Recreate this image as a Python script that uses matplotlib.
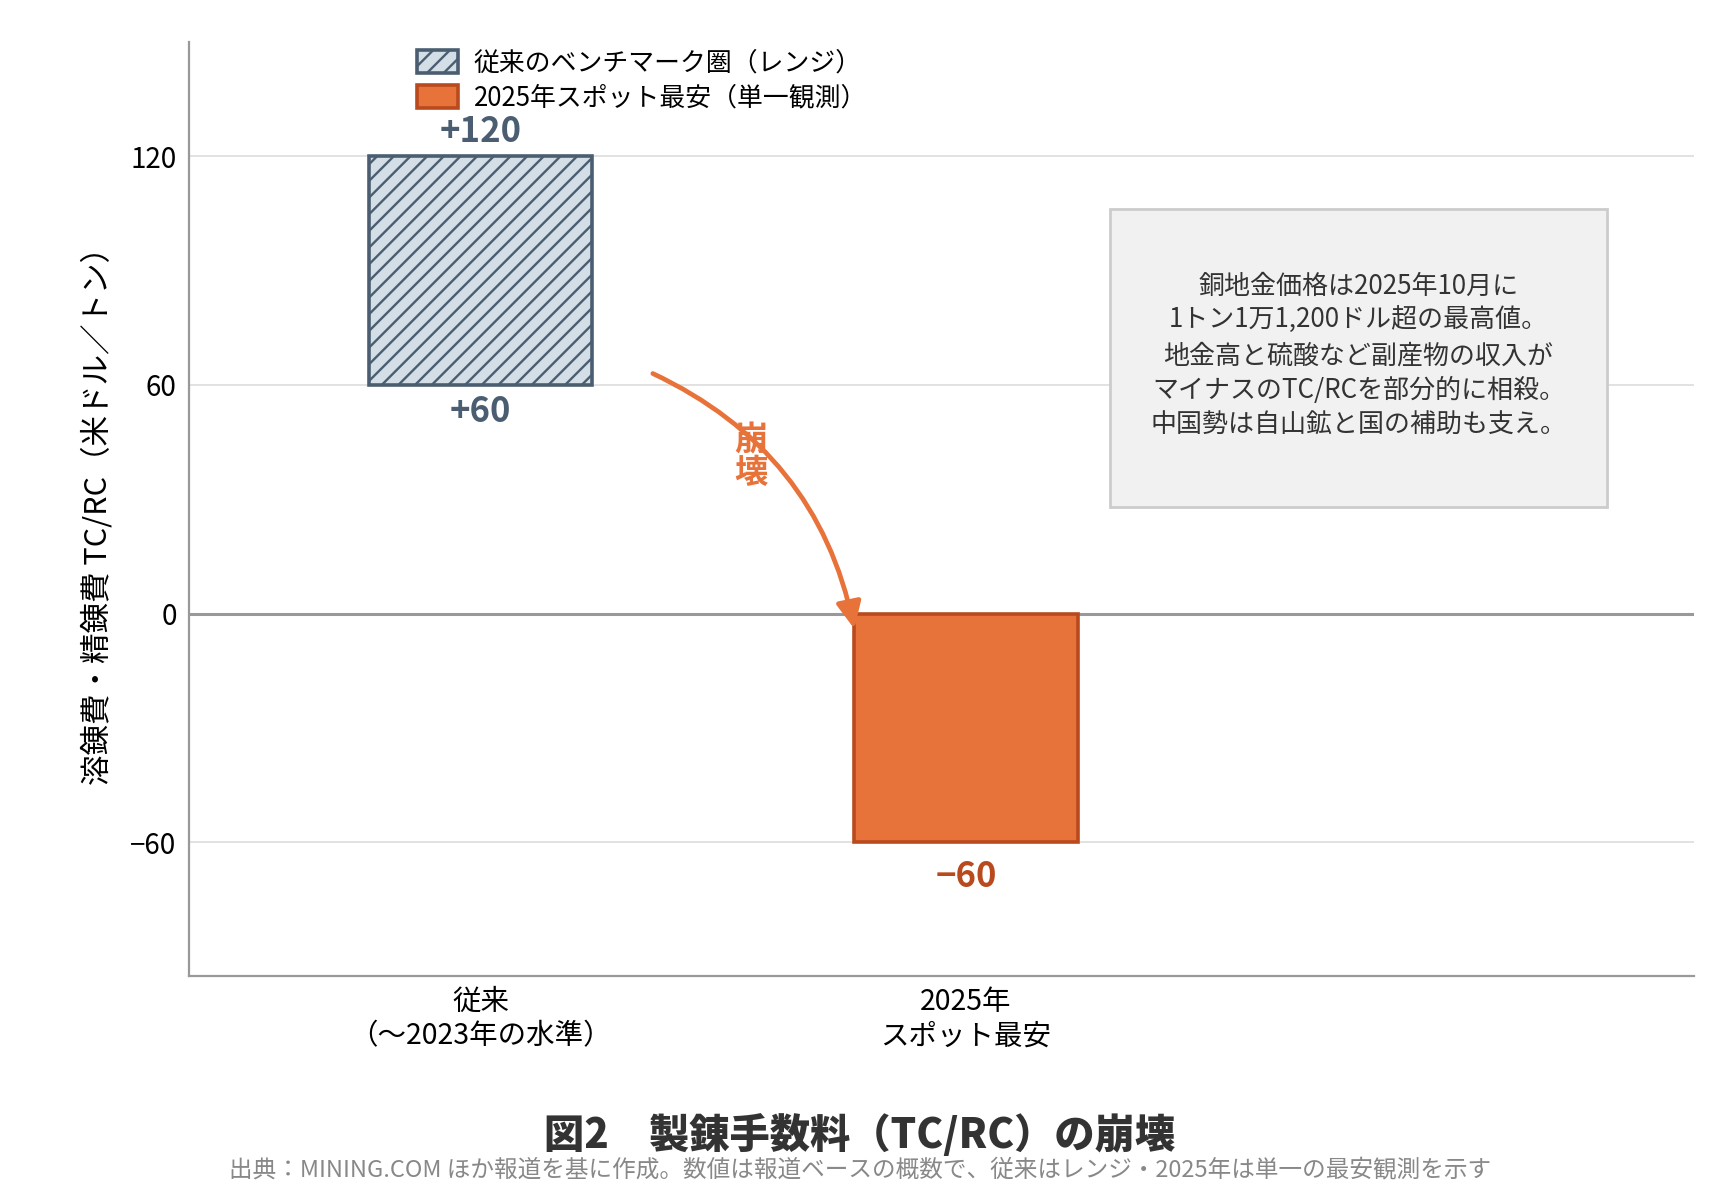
import matplotlib
matplotlib.use("Agg")
import matplotlib.pyplot as plt
from matplotlib.patches import Rectangle

plt.rcParams['font.family'] = ['Noto Sans CJK JP', 'DejaVu Sans']
plt.rcParams['hatch.linewidth'] = 1.7

# ---- data ----
categories = ['従来\n（～2023年の水準）', '2025年\nスポット最安']
bar_low = [60, -60]
bar_high = [120, 0]
series_names = ['従来のベンチマーク圏（レンジ）', '2025年スポット最安（単一観測）']
yticks = [-60, 0, 60, 120]
note_text = ('銅地金価格は2025年10月に\n1トン1万1,200ドル超の最高値。\n'
             '地金高と硫酸など副産物の収入が\nマイナスのTC/RCを部分的に相殺。\n'
             '中国勢は自山鉱と国の補助も支え。')
title = '図2　製錬手数料（TC/RC）の崩壊'
source = '出典：MINING.COM ほか報道を基に作成。数値は報道ベースの概数で、従来はレンジ・2025年は単一の最安観測を示す'
ylabel = '溶錬費・精錬費 TC/RC（米ドル／トン）'

c_slate = '#4b5e71'
c_slate_fill = '#d3dee6'
c_orange = '#e8733a'
c_orange_dk = '#b84a1e'

fig = plt.figure(figsize=(17.2, 12), dpi=100)
ax = fig.add_axes([0.110, 0.187, 0.875, 0.778])

x = [0, 1]
w = 0.46
ax.bar(x[0], bar_high[0] - bar_low[0], bottom=bar_low[0], width=w,
       facecolor=c_slate_fill, edgecolor=c_slate, linewidth=2.6, hatch='//',
       label=series_names[0], zorder=3)
ax.bar(x[1], bar_high[1] - bar_low[1], bottom=bar_low[1], width=w,
       facecolor=c_orange, edgecolor=c_orange_dk, linewidth=2.6,
       label=series_names[1], zorder=3)

ax.set_xlim(-0.6, 2.5)
ax.set_ylim(-95, 150)
ax.set_yticks(yticks)
ax.set_yticklabels([f'{v}'.replace('-', '−') for v in yticks])
ax.set_xticks(x)
ax.set_xticklabels(categories, fontsize=20.5, linespacing=1.2)
ax.tick_params(axis='y', labelsize=20, length=0, pad=9)
ax.tick_params(axis='x', length=0, pad=8)

ax.grid(axis='y', color='#dddddd', linewidth=1.2, zorder=0)
ax.set_axisbelow(True)
ax.axhline(0, color='#999999', linewidth=2.2, zorder=2)
for s in ['top', 'right']:
    ax.spines[s].set_visible(False)
for s in ['left', 'bottom']:
    ax.spines[s].set_color('#999999')
    ax.spines[s].set_linewidth(1.6)

ax.set_ylabel(ylabel, fontsize=22, labelpad=12)

# value labels
ax.text(x[0], bar_high[0] + 2, f'+{bar_high[0]}', ha='center', va='bottom',
        fontsize=25, fontweight='bold', color=c_slate)
ax.text(x[0], bar_low[0] - 2.5, f'+{bar_low[0]}', ha='center', va='top',
        fontsize=25, fontweight='bold', color=c_slate)
ax.text(x[1], bar_low[1] - 4.5, f'−{abs(bar_low[1])}', ha='center', va='top',
        fontsize=25, fontweight='bold', color=c_orange_dk)

# arrow
ax.annotate('', xy=(0.77, -4), xytext=(0.355, 63),
            arrowprops=dict(arrowstyle='-|>,head_length=1.6,head_width=0.75',
                            color=c_orange, lw=3.4,
                            connectionstyle='arc3,rad=-0.25',
                            shrinkA=0, shrinkB=0), zorder=4)
ax.text(0.558, 41, '崩\n壊', ha='center', va='center', fontsize=24,
        fontweight='bold', color=c_orange, linespacing=1.0, zorder=5)

# note box
ax.add_patch(Rectangle((0.612, 0.502), 0.330, 0.319, transform=ax.transAxes,
                       facecolor='#f1f1f1', edgecolor='#cccccc', linewidth=2,
                       zorder=5))
ax.text(0.777, 0.664, note_text, transform=ax.transAxes, ha='center',
        va='center', fontsize=18.7, color='#333333', linespacing=1.37,
        multialignment='center', zorder=6)

ax.legend(loc='upper left', bbox_to_anchor=(0.136, 1.017), frameon=False,
          fontsize=18.6, handlelength=1.6, handleheight=1.0,
          handletextpad=0.6, labelspacing=0.3)

fig.text(0.5, 0.054, title, ha='center', va='center', fontsize=29,
         fontweight=900, color='#333333')
fig.text(0.5, 0.025, source, ha='center', va='center', fontsize=17,
         color='#888888')

fig.savefig('out.png', dpi=100, facecolor='white')
